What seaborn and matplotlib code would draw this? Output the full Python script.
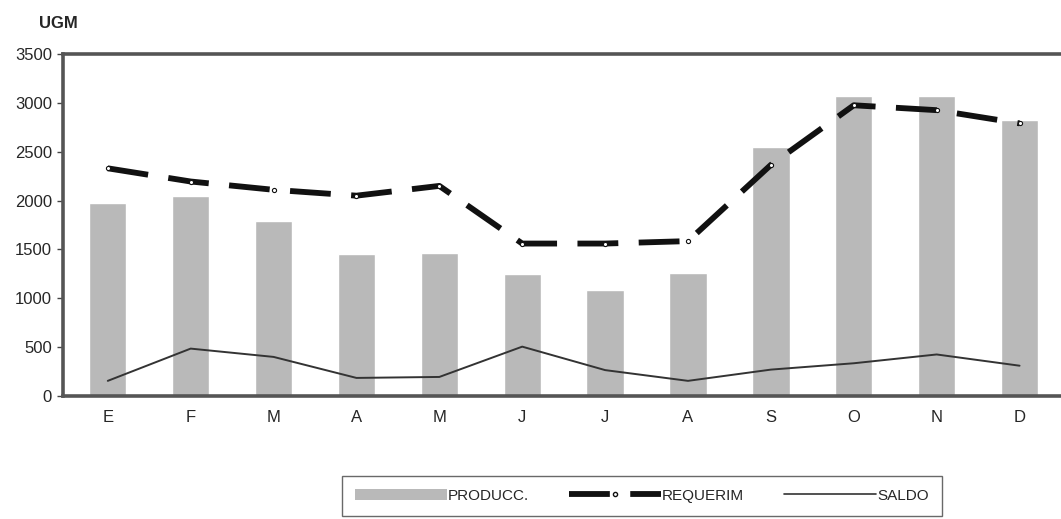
import numpy as np
import pandas as pd
import matplotlib
matplotlib.use("Agg")
import matplotlib.pyplot as plt
import seaborn as sns
from matplotlib.patches import Patch
from matplotlib.lines import Line2D

# ================= DATOS =================
meses = ['E', 'F', 'M', 'A', 'M', 'J', 'J', 'A', 'S', 'O', 'N', 'D']
produccion = [1980, 2050, 1790, 1455, 1465, 1245, 1080, 1255, 2545, 3075, 3070, 2820]
requerim = [2330, 2195, 2110, 2050, 2150, 1560, 1560, 1585, 2365, 2975, 2925, 2790]
saldo = [155, 485, 400, 185, 195, 505, 265, 155, 270, 335, 425, 310]

df = pd.DataFrame({'pos': range(len(meses)), 'mes': meses,
                   'produccion': produccion, 'requerim': requerim, 'saldo': saldo})

# ================= GRAFICO =================
sns.set_style("white")
plt.rcParams['font.family'] = ['Liberation Sans', 'DejaVu Sans']

fig = plt.figure(figsize=(10.61, 5.19), dpi=100)
ax = fig.add_axes([0.0594, 0.237, 0.9406, 0.659])

sns.barplot(data=df, x='pos', y='produccion', color='#b9b9b9', saturation=1,
            width=0.45, ax=ax)
ax.plot(df['pos'], df['requerim'], color='#111111', linewidth=4.2,
        dashes=(7, 3.5), marker='o', markersize=3, markerfacecolor='white',
        markeredgecolor='#111111', markeredgewidth=0.8, solid_capstyle='butt',
        dash_capstyle='butt')
sns.lineplot(data=df, x='pos', y='saldo', color='#333333', linewidth=1.4, ax=ax)

ax.set_ylim(0, 3500)
ax.set_xlim(-0.54, 11.34)
ax.set_yticks(np.arange(0, 3501, 500))
ax.set_xticks(range(len(meses)))
ax.set_xticklabels(meses)
ax.set_xticks(np.arange(-0.5, 11.6, 1), minor=True)
ax.tick_params(axis='x', which='major', length=0, labelsize=12, pad=10)
ax.tick_params(axis='x', which='minor', length=4, width=1, color='#444444', direction='out')
ax.tick_params(axis='y', length=4, width=1, color='#444444', labelsize=12, pad=4, left=True)
ax.set_xlabel('')
ax.set_ylabel('')

for lado in ['left', 'top', 'bottom']:
    ax.spines[lado].set_color('#555555')
    ax.spines[lado].set_linewidth(2.6)
ax.spines['right'].set_visible(False)

fig.text(0.037, 0.955, 'UGM', fontsize=12, fontweight='bold', ha='left', va='center')

handles = [Patch(facecolor='#b9b9b9', edgecolor='none'),
           Line2D([], [], color='#111111', linewidth=4.2, dashes=(7, 3.5),
                  marker='o', markersize=3, markerfacecolor='white', markevery=[1]),
           Line2D([], [], color='#333333', linewidth=1.2)]
fig.legend(handles, ['PRODUCC.', 'REQUERIM', 'SALDO'], loc='lower center',
           bbox_to_anchor=(0.605, -0.008), ncol=3, frameon=True, fancybox=False,
           edgecolor='#444444', fontsize=11, handlelength=6, handletextpad=0.1,
           columnspacing=2.6, borderpad=0.85)

plt.savefig('out.png', dpi=100)
